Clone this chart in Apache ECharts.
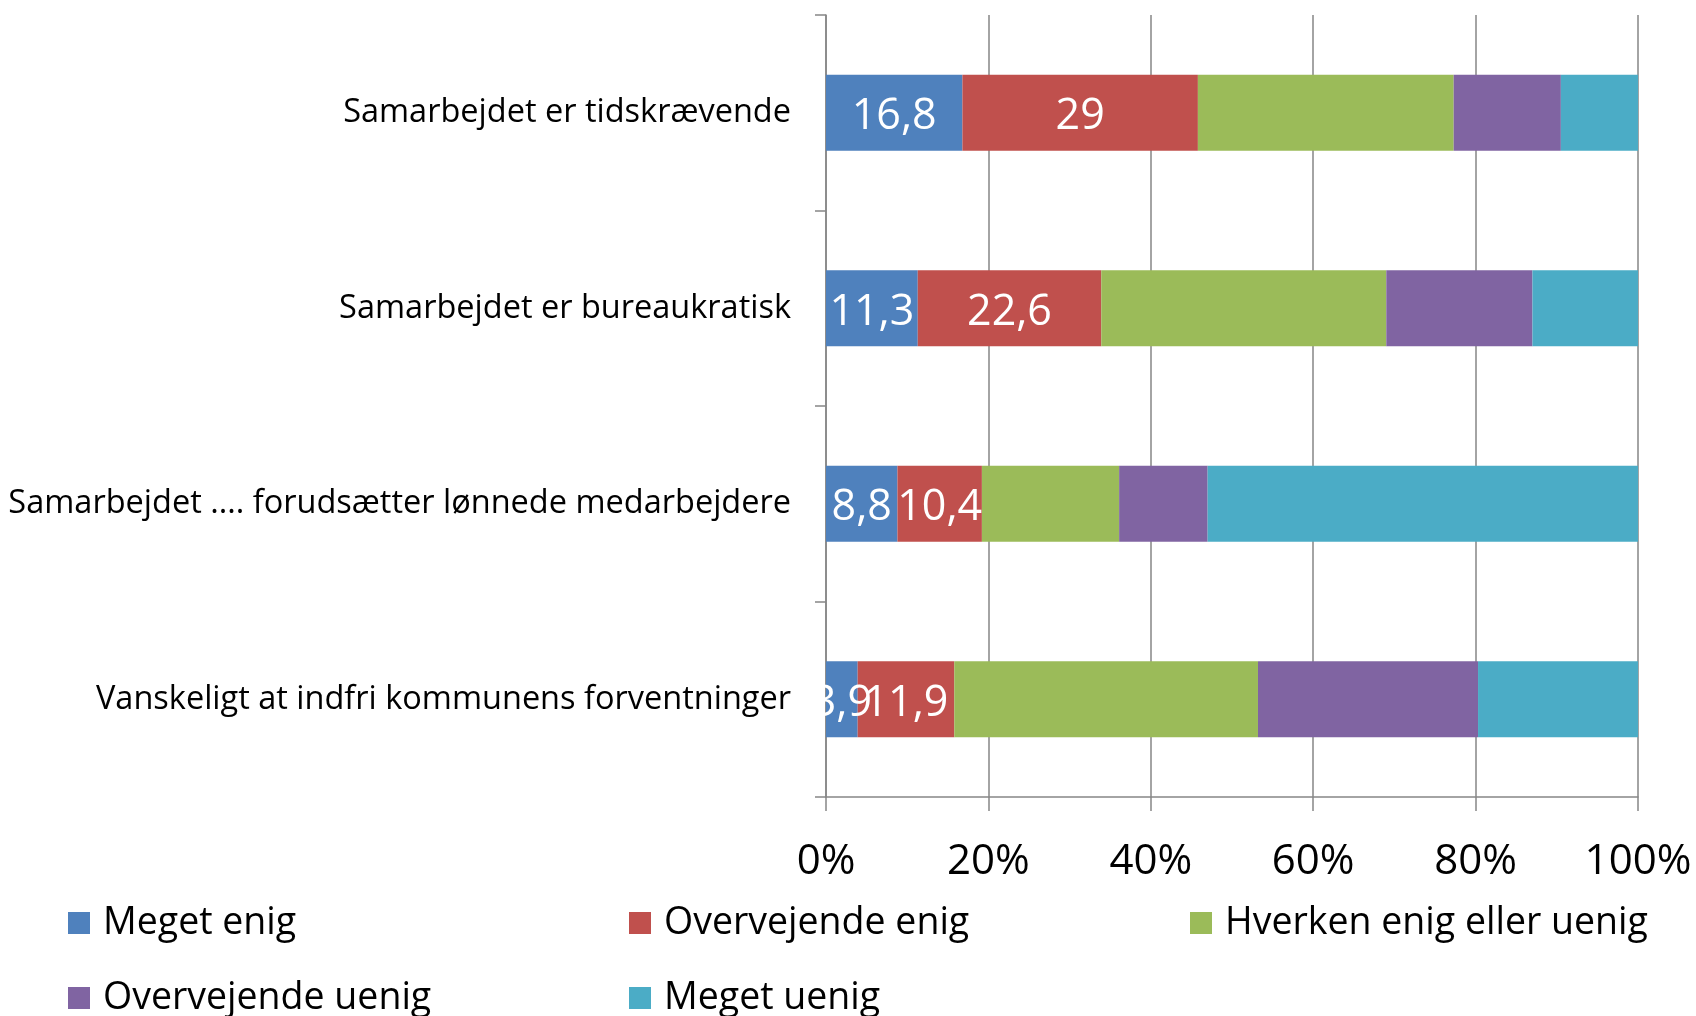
<!DOCTYPE html>
<html>
<head>
<meta charset="utf-8">
<script src="https://cdn.jsdelivr.net/npm/echarts@6/dist/echarts.min.js"></script>
<style>
  html, body { margin: 0; padding: 0; background: #fff; }
  #myChart { width: 1696px; height: 1016px; }
</style>
</head>
<body>
<div id="myChart"></div>
<script>
// kategorier (oppefra og ned)
const categories = [
  'Samarbejdet er tidskrævende',
  'Samarbejdet er bureaukratisk',
  'Samarbejdet .... forudsætter lønnede medarbejdere',
  'Vanskeligt at indfri kommunens forventninger'
]
const seriesNames = ['Meget enig', 'Overvejende enig', 'Hverken enig eller uenig', 'Overvejende uenig', 'Meget uenig']
const megetEnig = [16.8, 11.3, 8.8, 3.9]
const overvejendeEnig = [29, 22.6, 10.4, 11.9]
const hverken = [31.5, 35.1, 16.9, 37.4]
const overvejendeUenig = [13.2, 18.0, 10.9, 27.1]
const megetUenig = [9.5, 13.0, 53.0, 19.7]
const xTicks = [0, 20, 40, 60, 80, 100]
const colors = ['#4F81BD', '#C0504D', '#9BBB59', '#8064A2', '#4BACC6']

const font = '"Open Sans", sans-serif'
const values = [megetEnig, overvejendeEnig, hverken, overvejendeUenig, megetUenig]

let myChart = echarts.init(document.getElementById('myChart'))

// legende-placering (to rækker, tre kolonner)
const legendPos = [[68, 898], [629, 898], [1190, 898], [68, 973], [629, 973]]

myChart.setOption({
  animation: false,
  grid: { left: 826, right: 58, top: 15, bottom: 219, outerBoundsMode: 'none' },
  legend: seriesNames.map(function (n, i) {
    return {
      data: [n],
      left: legendPos[i][0],
      top: legendPos[i][1],
      padding: 0,
      itemWidth: 22,
      itemHeight: 22,
      icon: 'rect',
      textStyle: { fontFamily: font, fontSize: 37.5, color: '#000', lineHeight: 50, padding: [0, 0, 0, 8] }
    }
  }),
  xAxis: {
    type: 'value',
    min: 0,
    max: 100,
    interval: 20,
    axisLine: { show: true, lineStyle: { color: '#868686', width: 1.5 } },
    axisTick: { show: true, length: 14, lineStyle: { color: '#868686', width: 1.5 } },
    splitLine: { show: true, lineStyle: { color: '#868686', width: 1.5 } },
    axisLabel: {
      margin: 44,
      fontFamily: font,
      fontSize: 42,
      color: '#000',
      formatter: function (v) { return xTicks.indexOf(v) >= 0 ? v + '%' : '' }
    }
  },
  yAxis: {
    type: 'category',
    inverse: true,
    data: categories,
    axisLine: { show: true, lineStyle: { color: '#868686', width: 1.5 } },
    axisTick: { show: true, length: 11, lineStyle: { color: '#868686', width: 1.5 } },
    axisLabel: {
      margin: 35,
      fontFamily: font,
      fontSize: 32.5,
      color: '#000'
    }
  },
  series: seriesNames.map(function (n, i) {
    return {
      name: n,
      type: 'bar',
      stack: 'total',
      barWidth: '39%',
      data: values[i],
      itemStyle: { color: colors[i] },
      label: {
        show: i < 2,
        position: 'inside',
        offset: [0, 4],
        color: '#fff',
        fontFamily: font,
        fontSize: 43,
        formatter: function (p) { return String(p.value).replace('.', ',') }
      }
    }
  })
})
</script>
</body>
</html>
